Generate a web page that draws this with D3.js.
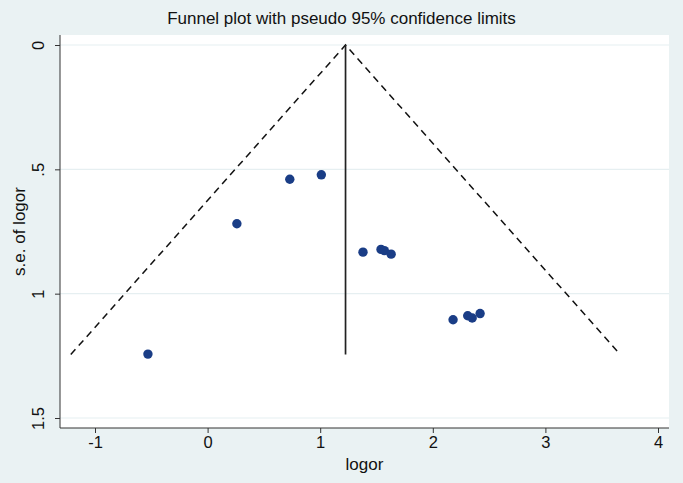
<html>
  <head>
    <meta charset="utf-8">
    <style>
      body { margin: 0; background: #eaf2f3; }
      text { font-family: "Liberation Sans", Arial, sans-serif; fill: #111; }
    </style>
  </head>
  <body>
    <svg></svg>
    <script src="https://d3js.org/d3.v7.min.js"></script>
    <script>
      let width = 683,
        height = 483;

      // study estimates
      let logor = [-0.53, 0.26, 0.73, 1.01, 1.38, 1.54, 1.57, 1.63, 2.18, 2.31, 2.35, 2.42];
      let se = [1.243, 0.719, 0.540, 0.522, 0.833, 0.822, 0.827, 0.841, 1.105, 1.089, 1.098, 1.080];
      let pooled = 1.225;
      let seMax = 1.245;
      let xTicks = [-1, 0, 1, 2, 3, 4];
      let yTicks = [0, 0.5, 1, 1.5];
      let yTickLabels = ["0", ".5", "1", "1.5"];

      let svg = d3.select("svg").attr("width", width).attr("height", height);

      let plotLeft = 60, plotRight = 669, plotTop = 35, plotBottom = 428;

      let x = d3.scaleLinear().domain([-1, 4]).range([95, 658]);
      let y = d3.scaleLinear().domain([0, 1.5]).range([45, 418]);

      // plot region
      svg.append("rect")
        .attr("x", plotLeft).attr("y", plotTop)
        .attr("width", plotRight - plotLeft).attr("height", plotBottom - plotTop)
        .attr("fill", "#fff");

      // grid
      svg.append("g")
        .selectAll("line")
        .data(yTicks)
        .enter()
        .append("line")
        .attr("x1", plotLeft).attr("x2", plotRight)
        .attr("y1", (d) => y(d)).attr("y2", (d) => y(d))
        .attr("stroke", "#e6eff1")
        .attr("stroke-width", 1.2);

      // funnel
      let funnel = [
        [pooled - 1.96 * seMax, seMax],
        [pooled, 0],
        [pooled + 1.96 * seMax, seMax],
      ];
      svg.append("path")
        .attr("d", d3.line().x((d) => x(d[0])).y((d) => y(d[1]))(funnel))
        .attr("fill", "none")
        .attr("stroke", "#111")
        .attr("stroke-width", 1.5)
        .attr("stroke-dasharray", "7,5");

      svg.append("line")
        .attr("x1", x(pooled)).attr("x2", x(pooled))
        .attr("y1", y(0)).attr("y2", y(seMax))
        .attr("stroke", "#222")
        .attr("stroke-width", 1.7);

      // points
      svg.append("g")
        .selectAll("circle")
        .data(logor)
        .enter()
        .append("circle")
        .attr("cx", (d) => x(d))
        .attr("cy", (d, i) => y(se[i]))
        .attr("r", 4.7)
        .attr("fill", "#1a3d86");

      // axes
      let xAxis = svg.append("g")
        .attr("transform", "translate(0," + plotBottom + ")")
        .call(d3.axisBottom(x).tickValues(xTicks).tickSize(5).tickPadding(3).tickFormat((d) => String(d)));
      xAxis.select(".domain").attr("d", "M" + plotLeft + ",0H" + plotRight).attr("stroke", "#333");
      xAxis.selectAll(".tick line").attr("stroke", "#333");
      xAxis.selectAll("text").style("font-size", "16.5px").attr("fill", "#111");

      let yAxis = svg.append("g")
        .attr("transform", "translate(" + plotLeft + ",0)")
        .call(d3.axisLeft(y).tickValues(yTicks).tickSize(5).tickFormat((d, i) => yTickLabels[i]));
      yAxis.select(".domain").attr("d", "M0," + plotTop + "V" + plotBottom).attr("stroke", "#333");
      yAxis.selectAll(".tick line").attr("stroke", "#333");
      yAxis.selectAll("text")
        .attr("x", 0).attr("y", 0)
        .attr("transform", "translate(-16,0) rotate(-90)")
        .attr("text-anchor", "middle")
        .attr("dy", "0")
        .style("font-size", "16.5px")
        .attr("fill", "#111");

      // titles
      svg.append("text")
        .attr("x", width / 2).attr("y", 24)
        .attr("text-anchor", "middle")
        .style("font-size", "17px")
        .text("Funnel plot with pseudo 95% confidence limits");

      svg.append("text")
        .attr("x", (plotLeft + plotRight) / 2).attr("y", 470)
        .attr("text-anchor", "middle")
        .style("font-size", "17px")
        .text("logor");

      svg.append("text")
        .attr("transform", "translate(25," + y(0.75) + ") rotate(-90)")
        .attr("text-anchor", "middle")
        .style("font-size", "17px")
        .text("s.e. of logor");
    </script>
  </body>
</html>
